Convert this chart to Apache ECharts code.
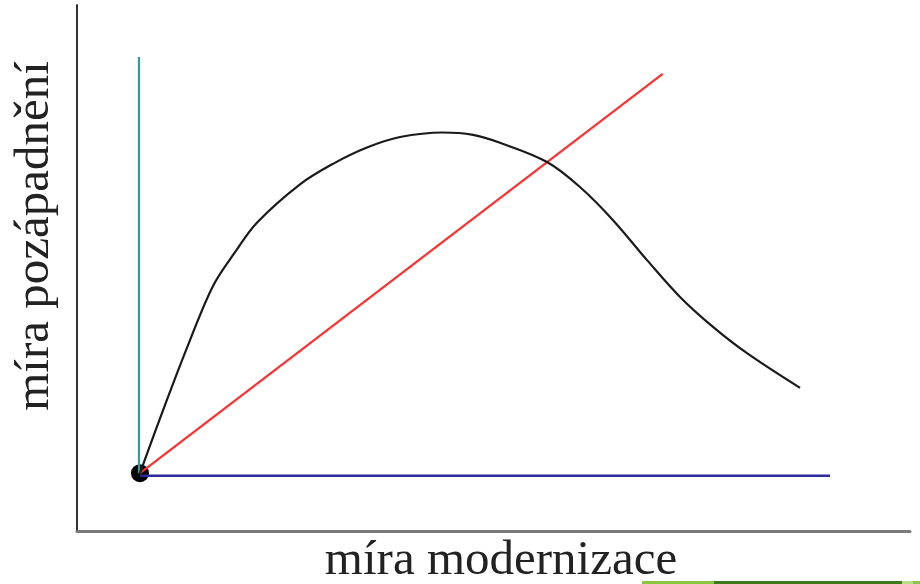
<!DOCTYPE html>
<html>
<head>
<meta charset="utf-8">
<script src="https://cdn.jsdelivr.net/npm/echarts@6/dist/echarts.min.js"></script>
<style>
  html, body { margin: 0; padding: 0; background: #fff; }
  #chart { width: 920px; height: 584px; }
</style>
</head>
<body>
<div id="chart"></div>
<script>
// osa: 0..100 v obou směrech (bez popisků)
var origin = [7.56, 11.0];
// černá křivka
var curveX = [7.56, 10.56, 13.57, 16.33, 18.97, 21.6, 26.77, 30.73, 34.81, 38.78, 43.94, 47.54, 50.78, 56.42, 60.38, 64.35, 68.43, 72.39, 76.35, 80.43, 86.8];
var curveY = [11.0, 23.95, 36.3, 46.6, 53.0, 58.6, 65.9, 69.8, 72.9, 74.9, 75.76, 75.3, 73.8, 70.15, 65.4, 59.1, 51.5, 44.5, 38.8, 33.8, 27.2];
// přímky
var tealX = [7.44, 7.44], tealY = [11.0, 90.1];
var redX = [7.56, 70.3], redY = [11.0, 86.9];
var blueX = [7.56, 90.4], blueY = [10.5, 10.5];

function pairs(xs, ys) {
    return xs.map(function (x, i) { return [x, ys[i]]; });
}

var font = 'Liberation Serif';
var option = {
    animation: false,
    grid: { left: 77, right: 10, top: 5, bottom: 53, outerBoundsMode: 'none' },
    xAxis: {
        type: 'value', min: 0, max: 100,
        name: 'míra modernizace',
        nameLocation: 'middle',
        nameGap: 6,
        nameTextStyle: { fontFamily: font, fontSize: 49, color: '#222', padding: [0, 0, 0, 15] },
        axisLine: { show: true, lineStyle: { color: '#7a7a7a', width: 3 } },
        axisTick: { show: false },
        axisLabel: { show: false },
        splitLine: { show: false }
    },
    yAxis: {
        type: 'value', min: 0, max: 100,
        name: 'míra pozápadnění',
        nameLocation: 'middle',
        nameGap: 17,
        nameRotate: 90,
        nameTextStyle: { fontFamily: font, fontSize: 49, color: '#222', padding: [0, 0, 0, 64] },
        axisLine: { show: true, lineStyle: { color: '#333', width: 2 } },
        axisTick: { show: false },
        axisLabel: { show: false },
        splitLine: { show: false }
    },
    series: [
        {
            type: 'line', data: pairs(tealX, tealY), symbol: 'none',
            lineStyle: { color: '#2e9e96', width: 2.2 }
        },
        {
            type: 'line', data: pairs(blueX, blueY), symbol: 'none',
            lineStyle: { color: '#2b2b9a', width: 2.5 }
        },
        {
            type: 'line', data: pairs(redX, redY), symbol: 'none',
            lineStyle: { color: '#ff3030', width: 2.2 }
        },
        {
            type: 'line', data: pairs(curveX, curveY), symbol: 'none', smooth: 0.35,
            lineStyle: { color: '#1a1a1a', width: 2.2 }
        },
        {
            type: 'scatter', data: [origin], symbolSize: 18,
            itemStyle: { color: '#000', opacity: 1 }
        }
    ],
    graphic: [
        { type: 'rect', shape: { x: 642, y: 581, width: 72, height: 3 }, style: { fill: '#8cc63f' } },
        { type: 'rect', shape: { x: 714, y: 581, width: 188, height: 3 }, style: { fill: '#3d7a1e' } },
        { type: 'rect', shape: { x: 902, y: 581, width: 11, height: 3 }, style: { fill: '#b8e08a' } },
        { type: 'rect', shape: { x: 913, y: 581, width: 7, height: 3 }, style: { fill: '#8cc63f' } }
    ]
};

var chart = echarts.init(document.getElementById('chart'));
chart.setOption(option);
</script>
</body>
</html>
